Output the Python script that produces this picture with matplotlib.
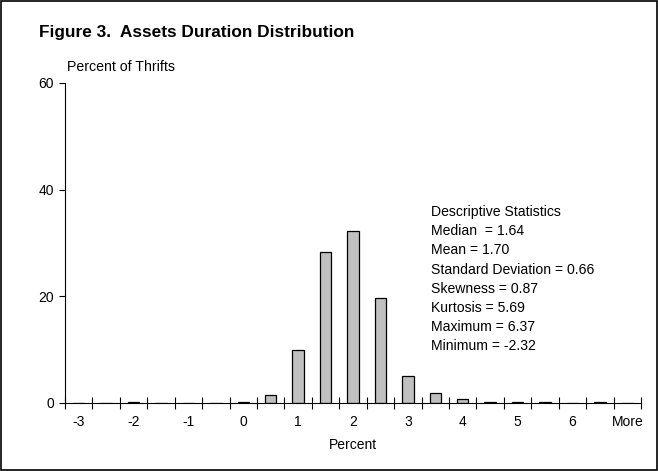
import matplotlib
matplotlib.use('Agg')
import matplotlib.pyplot as plt
from matplotlib.patches import Rectangle

plt.rcParams['font.family'] = ['Liberation Sans', 'DejaVu Sans']

# histogram bins (every half percent) and share of thrifts in each
bins = ['-3', '-2.5', '-2', '-1.5', '-1', '-0.5', '0', '0.5', '1', '1.5', '2',
        '2.5', '3', '3.5', '4', '4.5', '5', '5.5', '6', '6.5', 'More']
pct_thrifts = [0, 0, 0.2, 0, 0, 0, 0.2, 1.5, 9.9, 28.4, 32.3,
               19.7, 5.1, 1.8, 0.8, 0.2, 0.2, 0.2, 0, 0.2, 0]
yticks = [0, 20, 40, 60]

stats_lines = ['Descriptive Statistics',
               'Median  = 1.64',
               'Mean = 1.70',
               'Standard Deviation = 0.66',
               'Skewness = 0.87',
               'Kurtosis = 5.69',
               'Maximum = 6.37',
               'Minimum = -2.32']

fig = plt.figure(figsize=(6.58, 4.71), dpi=100)
ax = fig.add_axes([0.0988, 0.1444, 0.8754, 0.6794])

pos = list(range(len(bins)))
ax.bar(pos, pct_thrifts, width=0.42, color='#c0c0c0', edgecolor='black', linewidth=0.9)

ax.set_xlim(-0.5, len(bins) - 0.5)
ax.set_ylim(0, 60)

# tick marks between categories, labels on every other category
ax.set_xticks([p - 0.5 for p in pos] + [len(bins) - 0.5])
ax.set_xticklabels([])
ax.tick_params(axis='x', which='major', direction='inout', length=8, width=0.8)
ax.set_xticks(pos[::2], minor=True)
ax.set_xticklabels(bins[::2], minor=True)
ax.tick_params(axis='x', which='minor', length=0, pad=9, labelsize=10)

ax.set_yticks(yticks)
ax.tick_params(axis='y', direction='out', length=4, width=0.8, labelsize=10, pad=4)

for s in ['top', 'right']:
    ax.spines[s].set_visible(False)
for s in ['left', 'bottom']:
    ax.spines[s].set_linewidth(0.8)

ax.set_xlabel('Percent', fontsize=10, labelpad=6)

fig.text(39 / 658, 1 - 33 / 471, 'Figure 3.  Assets Duration Distribution',
         fontsize=12.4, fontweight='bold', va='center', ha='left')
fig.text(67 / 658, 1 - 67 / 471, 'Percent of Thrifts', fontsize=10.2, va='center', ha='left')

for i, line in enumerate(stats_lines):
    fig.text(431 / 658, 1 - (212 + 19.2 * i) / 471, line, fontsize=10.1, va='center', ha='left')

fig.patches.append(Rectangle((0.002, 0.003), 0.996, 0.994, transform=fig.transFigure,
                             fill=False, edgecolor='black', linewidth=1.2))

fig.savefig('out.png', dpi=100)
